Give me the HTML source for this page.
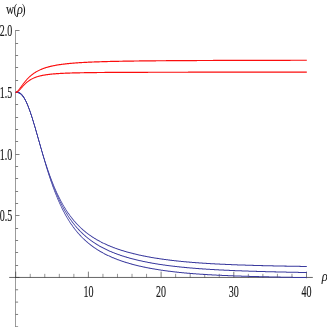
<!DOCTYPE html>
<html><head><meta charset="utf-8"><title>plot</title>
<style>
html,body{margin:0;padding:0;background:#fff;}
body{width:327px;height:327px;overflow:hidden;}
svg{display:block;will-change:transform;}
text{font-family:"Liberation Serif",serif;fill:#1a1a1a;}
</style></head><body>
<svg width="327" height="327" viewBox="0 0 327 327">
<rect width="327" height="327" fill="#ffffff"/>
<line x1="15.5" y1="30.1" x2="15.5" y2="327" stroke="#2d2d2d" stroke-width="0.48"/>
<line x1="9.2" y1="277.45" x2="312.8" y2="277.45" stroke="#2d2d2d" stroke-width="0.74"/>
<line x1="15.7" y1="326.79" x2="18.10" y2="326.79" stroke="#2d2d2d" stroke-width="0.62"/>
<line x1="15.7" y1="314.45" x2="18.10" y2="314.45" stroke="#2d2d2d" stroke-width="0.62"/>
<line x1="15.7" y1="302.12" x2="18.10" y2="302.12" stroke="#2d2d2d" stroke-width="0.62"/>
<line x1="15.7" y1="289.78" x2="18.10" y2="289.78" stroke="#2d2d2d" stroke-width="0.62"/>
<line x1="15.7" y1="277.45" x2="19.50" y2="277.45" stroke="#2d2d2d" stroke-width="0.6"/>
<line x1="15.7" y1="265.50" x2="18.10" y2="265.50" stroke="#2d2d2d" stroke-width="0.62"/>
<line x1="15.7" y1="252.50" x2="18.10" y2="252.50" stroke="#2d2d2d" stroke-width="0.62"/>
<line x1="15.7" y1="240.50" x2="18.10" y2="240.50" stroke="#2d2d2d" stroke-width="0.62"/>
<line x1="15.7" y1="228.50" x2="18.10" y2="228.50" stroke="#2d2d2d" stroke-width="0.62"/>
<line x1="15.7" y1="215.50" x2="19.50" y2="215.50" stroke="#2d2d2d" stroke-width="0.6"/>
<line x1="15.7" y1="203.50" x2="18.10" y2="203.50" stroke="#2d2d2d" stroke-width="0.62"/>
<line x1="15.7" y1="191.50" x2="18.10" y2="191.50" stroke="#2d2d2d" stroke-width="0.62"/>
<line x1="15.7" y1="178.50" x2="18.10" y2="178.50" stroke="#2d2d2d" stroke-width="0.62"/>
<line x1="15.7" y1="166.50" x2="18.10" y2="166.50" stroke="#2d2d2d" stroke-width="0.62"/>
<line x1="15.7" y1="154.50" x2="19.50" y2="154.50" stroke="#2d2d2d" stroke-width="0.6"/>
<line x1="15.7" y1="141.50" x2="18.10" y2="141.50" stroke="#2d2d2d" stroke-width="0.62"/>
<line x1="15.7" y1="129.50" x2="18.10" y2="129.50" stroke="#2d2d2d" stroke-width="0.62"/>
<line x1="15.7" y1="117.50" x2="18.10" y2="117.50" stroke="#2d2d2d" stroke-width="0.62"/>
<line x1="15.7" y1="104.50" x2="18.10" y2="104.50" stroke="#2d2d2d" stroke-width="0.62"/>
<line x1="15.7" y1="92.50" x2="19.50" y2="92.50" stroke="#2d2d2d" stroke-width="0.6"/>
<line x1="15.7" y1="80.50" x2="18.10" y2="80.50" stroke="#2d2d2d" stroke-width="0.62"/>
<line x1="15.7" y1="67.50" x2="18.10" y2="67.50" stroke="#2d2d2d" stroke-width="0.62"/>
<line x1="15.7" y1="55.50" x2="18.10" y2="55.50" stroke="#2d2d2d" stroke-width="0.62"/>
<line x1="15.7" y1="43.50" x2="18.10" y2="43.50" stroke="#2d2d2d" stroke-width="0.62"/>
<line x1="15.7" y1="30.50" x2="19.50" y2="30.50" stroke="#2d2d2d" stroke-width="0.6"/>
<line x1="15.70" y1="277.45" x2="15.70" y2="271.65" stroke="#2d2d2d" stroke-width="0.62"/>
<line x1="30.24" y1="277.45" x2="30.24" y2="273.84999999999997" stroke="#2d2d2d" stroke-width="0.5"/>
<line x1="44.78" y1="277.45" x2="44.78" y2="273.84999999999997" stroke="#2d2d2d" stroke-width="0.5"/>
<line x1="59.32" y1="277.45" x2="59.32" y2="273.84999999999997" stroke="#2d2d2d" stroke-width="0.5"/>
<line x1="73.86" y1="277.45" x2="73.86" y2="273.84999999999997" stroke="#2d2d2d" stroke-width="0.5"/>
<line x1="88.40" y1="277.45" x2="88.40" y2="271.65" stroke="#2d2d2d" stroke-width="0.62"/>
<line x1="102.94" y1="277.45" x2="102.94" y2="273.84999999999997" stroke="#2d2d2d" stroke-width="0.5"/>
<line x1="117.48" y1="277.45" x2="117.48" y2="273.84999999999997" stroke="#2d2d2d" stroke-width="0.5"/>
<line x1="132.02" y1="277.45" x2="132.02" y2="273.84999999999997" stroke="#2d2d2d" stroke-width="0.5"/>
<line x1="146.56" y1="277.45" x2="146.56" y2="273.84999999999997" stroke="#2d2d2d" stroke-width="0.5"/>
<line x1="161.10" y1="277.45" x2="161.10" y2="271.65" stroke="#2d2d2d" stroke-width="0.62"/>
<line x1="175.64" y1="277.45" x2="175.64" y2="273.84999999999997" stroke="#2d2d2d" stroke-width="0.5"/>
<line x1="190.18" y1="277.45" x2="190.18" y2="273.84999999999997" stroke="#2d2d2d" stroke-width="0.5"/>
<line x1="204.72" y1="277.45" x2="204.72" y2="273.84999999999997" stroke="#2d2d2d" stroke-width="0.5"/>
<line x1="219.26" y1="277.45" x2="219.26" y2="273.84999999999997" stroke="#2d2d2d" stroke-width="0.5"/>
<line x1="233.80" y1="277.45" x2="233.80" y2="271.65" stroke="#2d2d2d" stroke-width="0.62"/>
<line x1="248.34" y1="277.45" x2="248.34" y2="273.84999999999997" stroke="#2d2d2d" stroke-width="0.5"/>
<line x1="262.88" y1="277.45" x2="262.88" y2="273.84999999999997" stroke="#2d2d2d" stroke-width="0.5"/>
<line x1="277.42" y1="277.45" x2="277.42" y2="273.84999999999997" stroke="#2d2d2d" stroke-width="0.5"/>
<line x1="291.96" y1="277.45" x2="291.96" y2="273.84999999999997" stroke="#2d2d2d" stroke-width="0.5"/>
<line x1="306.50" y1="277.45" x2="306.50" y2="271.65" stroke="#2d2d2d" stroke-width="0.62"/>
<path transform="scale(1,1.62)" d="M15.8,57.05 L16.3,57.01 L16.8,57.00 L17.3,57.01 L17.8,57.04 L18.3,57.11 L18.8,57.21 L19.3,57.35 L19.8,57.51 L20.3,57.72 L20.8,57.95 L21.3,58.23 L21.8,58.54 L22.3,58.88 L22.8,59.27 L23.3,59.69 L23.8,60.15 L24.3,60.65 L24.8,61.18 L25.3,61.75 L25.8,62.36 L26.3,63.00 L26.8,63.68 L27.3,64.39 L27.8,65.13 L28.3,65.90 L28.8,66.70 L29.3,67.54 L29.8,68.39 L30.3,69.28 L30.8,70.19 L31.3,71.12 L31.8,72.07 L32.3,73.04 L32.8,74.03 L33.3,75.04 L33.8,76.06 L34.3,77.09 L34.8,78.14 L35.3,79.19 L35.8,80.26 L36.3,81.33 L36.8,82.40 L37.3,83.48 L37.8,84.57 L38.3,85.65 L38.8,86.73 L39.3,87.81 L39.8,88.89 L40.3,89.96 L40.8,91.02 L41.3,92.07 L41.8,93.12 L42.3,94.16 L42.8,95.18 L43.3,96.19 L43.8,97.19 L44.3,98.18 L44.8,99.16 L45.3,100.12 L45.8,101.07 L46.3,102.01 L46.8,102.94 L47.3,103.86 L47.8,104.77 L48.3,105.66 L48.8,106.55 L49.3,107.42 L49.8,108.28 L50.3,109.13 L50.8,109.96 L51.3,110.79 L51.8,111.59 L52.3,112.39 L52.8,113.17 L53.3,113.94 L53.8,114.69 L54.3,115.43 L54.8,116.16 L55.3,116.88 L55.8,117.58 L56.3,118.28 L56.8,118.96 L57.3,119.63 L57.8,120.28 L58.3,120.93 L58.8,121.56 L59.3,122.18 L59.8,122.79 L60.3,123.39 L60.8,123.98 L61.3,124.56 L61.8,125.13 L62.3,125.69 L62.8,126.23 L63.3,126.77 L63.8,127.30 L64.3,127.82 L64.8,128.33 L65.3,128.83 L65.8,129.32 L66.3,129.80 L66.8,130.28 L67.3,130.74 L67.8,131.20 L68.3,131.65 L68.8,132.09 L69.3,132.52 L69.8,132.95 L70.3,133.36 L70.8,133.77 L71.3,134.18 L71.8,134.57 L72.3,134.96 L72.8,135.35 L73.3,135.72 L73.8,136.09 L74.3,136.46 L74.8,136.81 L75.3,137.16 L75.8,137.51 L76.3,137.85 L76.8,138.18 L77.3,138.51 L77.8,138.83 L78.3,139.15 L78.8,139.46 L79.3,139.77 L79.8,140.07 L80.3,140.37 L80.8,140.66 L81.3,140.94 L81.8,141.23 L82.3,141.50 L82.8,141.78 L83.3,142.05 L83.8,142.31 L84.3,142.57 L84.8,142.83 L85.3,143.08 L85.8,143.33 L86.3,143.58 L86.8,143.82 L87.3,144.05 L87.8,144.29 L88.3,144.52 L88.8,144.74 L89.3,144.97 L89.8,145.19 L90.3,145.41 L90.8,145.62 L91.3,145.83 L91.8,146.04 L92.3,146.24 L92.8,146.44 L93.3,146.64 L93.8,146.84 L94.3,147.03 L94.8,147.22 L95.3,147.41 L95.8,147.59 L96.3,147.78 L96.8,147.95 L97.3,148.13 L97.8,148.31 L98.3,148.48 L98.8,148.65 L99.3,148.82 L99.8,148.98 L100.3,149.15 L100.8,149.31 L101.3,149.47 L101.8,149.63 L102.3,149.78 L102.8,149.93 L103.3,150.08 L103.8,150.23 L104.3,150.38 L104.8,150.53 L105.3,150.67 L105.8,150.81 L106.3,150.95 L106.8,151.09 L107.3,151.23 L107.8,151.36 L108.3,151.49 L108.8,151.63 L109.3,151.76 L109.8,151.89 L110.3,152.01 L110.8,152.14 L111.3,152.26 L111.8,152.38 L112.3,152.51 L112.8,152.63 L113.3,152.74 L113.8,152.86 L114.3,152.98 L114.8,153.09 L115.3,153.20 L115.8,153.32 L116.3,153.43 L116.8,153.54 L117.3,153.64 L117.8,153.75 L118.3,153.86 L118.8,153.96 L119.3,154.07 L119.8,154.17 L120.3,154.27 L120.8,154.37 L121.3,154.47 L121.8,154.57 L122.3,154.66 L122.8,154.76 L123.3,154.85 L123.8,154.95 L124.3,155.04 L124.8,155.13 L125.3,155.22 L125.8,155.31 L126.3,155.40 L126.8,155.49 L127.3,155.58 L127.8,155.66 L128.3,155.75 L128.8,155.83 L129.3,155.92 L129.8,156.00 L130.3,156.08 L130.8,156.16 L131.3,156.24 L131.8,156.32 L132.3,156.40 L132.8,156.48 L133.3,156.56 L133.8,156.63 L134.3,156.71 L134.8,156.78 L135.3,156.86 L135.8,156.93 L136.3,157.00 L136.8,157.08 L137.3,157.15 L137.8,157.22 L138.3,157.29 L138.8,157.36 L139.3,157.43 L139.8,157.49 L140.3,157.56 L140.8,157.63 L141.3,157.69 L141.8,157.76 L142.3,157.82 L142.8,157.89 L143.3,157.95 L143.8,158.01 L144.3,158.07 L144.8,158.14 L145.3,158.20 L145.8,158.26 L146.3,158.32 L146.8,158.38 L147.3,158.43 L147.8,158.49 L148.3,158.55 L148.8,158.61 L149.3,158.66 L149.8,158.72 L150.3,158.77 L150.8,158.83 L151.3,158.88 L151.8,158.94 L152.3,158.99 L152.8,159.04 L153.3,159.09 L153.8,159.15 L154.3,159.20 L154.8,159.25 L155.3,159.30 L155.8,159.35 L156.3,159.40 L156.8,159.45 L157.3,159.49 L157.8,159.54 L158.3,159.59 L158.8,159.64 L159.3,159.68 L159.8,159.73 L160.3,159.78 L160.8,159.82 L161.3,159.87 L161.8,159.91 L162.3,159.95 L162.8,160.00 L163.3,160.04 L163.8,160.08 L164.3,160.13 L164.8,160.17 L165.3,160.21 L165.8,160.25 L166.3,160.29 L166.8,160.33 L167.3,160.37 L167.8,160.41 L168.3,160.45 L168.8,160.49 L169.3,160.53 L169.8,160.57 L170.3,160.61 L170.8,160.64 L171.3,160.68 L171.8,160.72 L172.3,160.75 L172.8,160.79 L173.3,160.83 L173.8,160.86 L174.3,160.90 L174.8,160.93 L175.3,160.97 L175.8,161.00 L176.3,161.03 L176.8,161.07 L177.3,161.10 L177.8,161.13 L178.3,161.17 L178.8,161.20 L179.3,161.23 L179.8,161.26 L180.3,161.29 L180.8,161.33 L181.3,161.36 L181.8,161.39 L182.3,161.42 L182.8,161.45 L183.3,161.48 L183.8,161.51 L184.3,161.54 L184.8,161.56 L185.3,161.59 L185.8,161.62 L186.3,161.65 L186.8,161.68 L187.3,161.71 L187.8,161.73 L188.3,161.76 L188.8,161.79 L189.3,161.81 L189.8,161.84 L190.3,161.87 L190.8,161.89 L191.3,161.92 L191.8,161.94 L192.3,161.97 L192.8,161.99 L193.3,162.02 L193.8,162.04 L194.3,162.06 L194.8,162.09 L195.3,162.11 L195.8,162.14 L196.3,162.16 L196.8,162.18 L197.3,162.20 L197.8,162.23 L198.3,162.25 L198.8,162.27 L199.3,162.29 L199.8,162.31 L200.3,162.34 L200.8,162.36 L201.3,162.38 L201.8,162.40 L202.3,162.42 L202.8,162.44 L203.3,162.46 L203.8,162.48 L204.3,162.50 L204.8,162.52 L205.3,162.54 L205.8,162.56 L206.3,162.58 L206.8,162.60 L207.3,162.62 L207.8,162.64 L208.3,162.65 L208.8,162.67 L209.3,162.69 L209.8,162.71 L210.3,162.73 L210.8,162.74 L211.3,162.76 L211.8,162.78 L212.3,162.80 L212.8,162.81 L213.3,162.83 L213.8,162.85 L214.3,162.86 L214.8,162.88 L215.3,162.90 L215.8,162.91 L216.3,162.93 L216.8,162.95 L217.3,162.96 L217.8,162.98 L218.3,162.99 L218.8,163.01 L219.3,163.02 L219.8,163.04 L220.3,163.05 L220.8,163.07 L221.3,163.08 L221.8,163.10 L222.3,163.11 L222.8,163.13 L223.3,163.14 L223.8,163.16 L224.3,163.17 L224.8,163.18 L225.3,163.20 L225.8,163.21 L226.3,163.22 L226.8,163.24 L227.3,163.25 L227.8,163.26 L228.3,163.28 L228.8,163.29 L229.3,163.30 L229.8,163.32 L230.3,163.33 L230.8,163.34 L231.3,163.35 L231.8,163.37 L232.3,163.38 L232.8,163.39 L233.3,163.40 L233.8,163.41 L234.3,163.43 L234.8,163.44 L235.3,163.45 L235.8,163.46 L236.3,163.47 L236.8,163.48 L237.3,163.50 L237.8,163.51 L238.3,163.52 L238.8,163.53 L239.3,163.54 L239.8,163.55 L240.3,163.56 L240.8,163.57 L241.3,163.58 L241.8,163.59 L242.3,163.60 L242.8,163.61 L243.3,163.62 L243.8,163.63 L244.3,163.64 L244.8,163.65 L245.3,163.66 L245.8,163.67 L246.3,163.68 L246.8,163.69 L247.3,163.70 L247.8,163.71 L248.3,163.72 L248.8,163.73 L249.3,163.74 L249.8,163.75 L250.3,163.76 L250.8,163.77 L251.3,163.78 L251.8,163.79 L252.3,163.80 L252.8,163.81 L253.3,163.81 L253.8,163.82 L254.3,163.83 L254.8,163.84 L255.3,163.85 L255.8,163.86 L256.3,163.87 L256.8,163.87 L257.3,163.88 L257.8,163.89 L258.3,163.90 L258.8,163.91 L259.3,163.92 L259.8,163.92 L260.3,163.93 L260.8,163.94 L261.3,163.95 L261.8,163.96 L262.3,163.96 L262.8,163.97 L263.3,163.98 L263.8,163.99 L264.3,163.99 L264.8,164.00 L265.3,164.01 L265.8,164.02 L266.3,164.02 L266.8,164.03 L267.3,164.04 L267.8,164.05 L268.3,164.05 L268.8,164.06 L269.3,164.07 L269.8,164.07 L270.3,164.08 L270.8,164.09 L271.3,164.09 L271.8,164.10 L272.3,164.11 L272.8,164.12 L273.3,164.12 L273.8,164.13 L274.3,164.14 L274.8,164.14 L275.3,164.15 L275.8,164.16 L276.3,164.16 L276.8,164.17 L277.3,164.17 L277.8,164.18 L278.3,164.19 L278.8,164.19 L279.3,164.20 L279.8,164.21 L280.3,164.21 L280.8,164.22 L281.3,164.22 L281.8,164.23 L282.3,164.24 L282.8,164.24 L283.3,164.25 L283.8,164.25 L284.3,164.26 L284.8,164.27 L285.3,164.27 L285.8,164.28 L286.3,164.28 L286.8,164.29 L287.3,164.30 L287.8,164.30 L288.3,164.31 L288.8,164.31 L289.3,164.32 L289.8,164.32 L290.3,164.33 L290.8,164.33 L291.3,164.34 L291.8,164.35 L292.3,164.35 L292.8,164.36 L293.3,164.36 L293.8,164.37 L294.3,164.37 L294.8,164.38 L295.3,164.38 L295.8,164.39 L296.3,164.39 L296.8,164.40 L297.3,164.40 L297.8,164.41 L298.3,164.41 L298.8,164.42 L299.3,164.42 L299.8,164.43 L300.3,164.43 L300.8,164.44 L301.3,164.44 L301.8,164.45 L302.3,164.45 L302.8,164.46 L303.3,164.46 L303.8,164.47 L304.3,164.47 L304.8,164.48 L305.3,164.48 L305.8,164.49 L306.3,164.49 L306.8,164.50 L306.8,164.50" fill="none" stroke="#3a3a9e" stroke-width="0.63" stroke-linejoin="round"/>
<path transform="scale(1,1.62)" d="M15.8,57.05 L16.3,57.01 L16.8,57.00 L17.3,57.01 L17.8,57.04 L18.3,57.11 L18.8,57.21 L19.3,57.35 L19.8,57.51 L20.3,57.72 L20.8,57.95 L21.3,58.23 L21.8,58.54 L22.3,58.88 L22.8,59.27 L23.3,59.69 L23.8,60.15 L24.3,60.65 L24.8,61.18 L25.3,61.75 L25.8,62.36 L26.3,63.00 L26.8,63.68 L27.3,64.39 L27.8,65.13 L28.3,65.90 L28.8,66.70 L29.3,67.54 L29.8,68.39 L30.3,69.28 L30.8,70.19 L31.3,71.12 L31.8,72.07 L32.3,73.04 L32.8,74.03 L33.3,75.04 L33.8,76.06 L34.3,77.09 L34.8,78.14 L35.3,79.19 L35.8,80.26 L36.3,81.33 L36.8,82.40 L37.3,83.48 L37.8,84.57 L38.3,85.65 L38.8,86.73 L39.3,87.82 L39.8,88.90 L40.3,89.98 L40.8,91.05 L41.3,92.12 L41.8,93.18 L42.3,94.24 L42.8,95.29 L43.3,96.33 L43.8,97.36 L44.3,98.38 L44.8,99.40 L45.3,100.40 L45.8,101.39 L46.3,102.37 L46.8,103.34 L47.3,104.30 L47.8,105.24 L48.3,106.18 L48.8,107.10 L49.3,108.00 L49.8,108.90 L50.3,109.78 L50.8,110.65 L51.3,111.51 L51.8,112.35 L52.3,113.18 L52.8,114.00 L53.3,114.80 L53.8,115.59 L54.3,116.37 L54.8,117.14 L55.3,117.89 L55.8,118.63 L56.3,119.36 L56.8,120.08 L57.3,120.78 L57.8,121.47 L58.3,122.15 L58.8,122.82 L59.3,123.47 L59.8,124.12 L60.3,124.75 L60.8,125.38 L61.3,125.99 L61.8,126.59 L62.3,127.18 L62.8,127.76 L63.3,128.33 L63.8,128.89 L64.3,129.44 L64.8,129.98 L65.3,130.51 L65.8,131.03 L66.3,131.54 L66.8,132.05 L67.3,132.54 L67.8,133.03 L68.3,133.50 L68.8,133.97 L69.3,134.43 L69.8,134.89 L70.3,135.33 L70.8,135.77 L71.3,136.20 L71.8,136.62 L72.3,137.03 L72.8,137.44 L73.3,137.84 L73.8,138.23 L74.3,138.62 L74.8,139.00 L75.3,139.38 L75.8,139.74 L76.3,140.10 L76.8,140.46 L77.3,140.81 L77.8,141.15 L78.3,141.49 L78.8,141.82 L79.3,142.15 L79.8,142.47 L80.3,142.79 L80.8,143.10 L81.3,143.40 L81.8,143.71 L82.3,144.00 L82.8,144.29 L83.3,144.58 L83.8,144.86 L84.3,145.14 L84.8,145.41 L85.3,145.68 L85.8,145.95 L86.3,146.21 L86.8,146.47 L87.3,146.72 L87.8,146.97 L88.3,147.21 L88.8,147.46 L89.3,147.69 L89.8,147.93 L90.3,148.16 L90.8,148.39 L91.3,148.61 L91.8,148.83 L92.3,149.05 L92.8,149.26 L93.3,149.47 L93.8,149.68 L94.3,149.89 L94.8,150.09 L95.3,150.29 L95.8,150.49 L96.3,150.68 L96.8,150.87 L97.3,151.06 L97.8,151.24 L98.3,151.43 L98.8,151.61 L99.3,151.79 L99.8,151.96 L100.3,152.14 L100.8,152.31 L101.3,152.48 L101.8,152.64 L102.3,152.81 L102.8,152.97 L103.3,153.13 L103.8,153.29 L104.3,153.44 L104.8,153.60 L105.3,153.75 L105.8,153.90 L106.3,154.05 L106.8,154.19 L107.3,154.34 L107.8,154.48 L108.3,154.62 L108.8,154.76 L109.3,154.90 L109.8,155.03 L110.3,155.17 L110.8,155.30 L111.3,155.43 L111.8,155.56 L112.3,155.69 L112.8,155.81 L113.3,155.94 L113.8,156.06 L114.3,156.18 L114.8,156.30 L115.3,156.42 L115.8,156.54 L116.3,156.65 L116.8,156.77 L117.3,156.88 L117.8,156.99 L118.3,157.11 L118.8,157.22 L119.3,157.32 L119.8,157.43 L120.3,157.54 L120.8,157.64 L121.3,157.75 L121.8,157.85 L122.3,157.95 L122.8,158.05 L123.3,158.15 L123.8,158.25 L124.3,158.34 L124.8,158.44 L125.3,158.53 L125.8,158.63 L126.3,158.72 L126.8,158.81 L127.3,158.90 L127.8,158.99 L128.3,159.08 L128.8,159.17 L129.3,159.26 L129.8,159.34 L130.3,159.43 L130.8,159.51 L131.3,159.60 L131.8,159.68 L132.3,159.76 L132.8,159.84 L133.3,159.92 L133.8,160.00 L134.3,160.08 L134.8,160.16 L135.3,160.23 L135.8,160.31 L136.3,160.39 L136.8,160.46 L137.3,160.53 L137.8,160.61 L138.3,160.68 L138.8,160.75 L139.3,160.82 L139.8,160.89 L140.3,160.96 L140.8,161.03 L141.3,161.10 L141.8,161.16 L142.3,161.23 L142.8,161.30 L143.3,161.36 L143.8,161.43 L144.3,161.49 L144.8,161.55 L145.3,161.62 L145.8,161.68 L146.3,161.74 L146.8,161.80 L147.3,161.86 L147.8,161.92 L148.3,161.98 L148.8,162.04 L149.3,162.10 L149.8,162.16 L150.3,162.21 L150.8,162.27 L151.3,162.32 L151.8,162.38 L152.3,162.43 L152.8,162.49 L153.3,162.54 L153.8,162.60 L154.3,162.65 L154.8,162.70 L155.3,162.75 L155.8,162.80 L156.3,162.85 L156.8,162.90 L157.3,162.95 L157.8,163.00 L158.3,163.05 L158.8,163.10 L159.3,163.15 L159.8,163.20 L160.3,163.24 L160.8,163.29 L161.3,163.34 L161.8,163.38 L162.3,163.43 L162.8,163.47 L163.3,163.52 L163.8,163.56 L164.3,163.60 L164.8,163.65 L165.3,163.69 L165.8,163.73 L166.3,163.77 L166.8,163.82 L167.3,163.86 L167.8,163.90 L168.3,163.94 L168.8,163.98 L169.3,164.02 L169.8,164.06 L170.3,164.10 L170.8,164.14 L171.3,164.17 L171.8,164.21 L172.3,164.25 L172.8,164.29 L173.3,164.32 L173.8,164.36 L174.3,164.40 L174.8,164.43 L175.3,164.47 L175.8,164.50 L176.3,164.54 L176.8,164.57 L177.3,164.61 L177.8,164.64 L178.3,164.67 L178.8,164.71 L179.3,164.74 L179.8,164.77 L180.3,164.81 L180.8,164.84 L181.3,164.87 L181.8,164.90 L182.3,164.93 L182.8,164.96 L183.3,164.99 L183.8,165.02 L184.3,165.05 L184.8,165.08 L185.3,165.11 L185.8,165.14 L186.3,165.17 L186.8,165.20 L187.3,165.23 L187.8,165.26 L188.3,165.29 L188.8,165.31 L189.3,165.34 L189.8,165.37 L190.3,165.39 L190.8,165.42 L191.3,165.45 L191.8,165.47 L192.3,165.50 L192.8,165.53 L193.3,165.55 L193.8,165.58 L194.3,165.60 L194.8,165.63 L195.3,165.65 L195.8,165.67 L196.3,165.70 L196.8,165.72 L197.3,165.75 L197.8,165.77 L198.3,165.79 L198.8,165.82 L199.3,165.84 L199.8,165.86 L200.3,165.88 L200.8,165.91 L201.3,165.93 L201.8,165.95 L202.3,165.97 L202.8,165.99 L203.3,166.01 L203.8,166.04 L204.3,166.06 L204.8,166.08 L205.3,166.10 L205.8,166.12 L206.3,166.14 L206.8,166.16 L207.3,166.18 L207.8,166.20 L208.3,166.22 L208.8,166.24 L209.3,166.25 L209.8,166.27 L210.3,166.29 L210.8,166.31 L211.3,166.33 L211.8,166.35 L212.3,166.37 L212.8,166.38 L213.3,166.40 L213.8,166.42 L214.3,166.44 L214.8,166.45 L215.3,166.47 L215.8,166.49 L216.3,166.51 L216.8,166.52 L217.3,166.54 L217.8,166.56 L218.3,166.57 L218.8,166.59 L219.3,166.60 L219.8,166.62 L220.3,166.64 L220.8,166.65 L221.3,166.67 L221.8,166.68 L222.3,166.70 L222.8,166.71 L223.3,166.73 L223.8,166.74 L224.3,166.76 L224.8,166.77 L225.3,166.79 L225.8,166.80 L226.3,166.82 L226.8,166.83 L227.3,166.85 L227.8,166.86 L228.3,166.87 L228.8,166.89 L229.3,166.90 L229.8,166.92 L230.3,166.93 L230.8,166.94 L231.3,166.96 L231.8,166.97 L232.3,166.98 L232.8,167.00 L233.3,167.01 L233.8,167.02 L234.3,167.03 L234.8,167.05 L235.3,167.06 L235.8,167.07 L236.3,167.08 L236.8,167.10 L237.3,167.11 L237.8,167.12 L238.3,167.13 L238.8,167.14 L239.3,167.16 L239.8,167.17 L240.3,167.18 L240.8,167.19 L241.3,167.20 L241.8,167.21 L242.3,167.23 L242.8,167.24 L243.3,167.25 L243.8,167.26 L244.3,167.27 L244.8,167.28 L245.3,167.29 L245.8,167.30 L246.3,167.31 L246.8,167.32 L247.3,167.33 L247.8,167.34 L248.3,167.35 L248.8,167.37 L249.3,167.38 L249.8,167.39 L250.3,167.40 L250.8,167.41 L251.3,167.42 L251.8,167.43 L252.3,167.44 L252.8,167.45 L253.3,167.45 L253.8,167.46 L254.3,167.47 L254.8,167.48 L255.3,167.49 L255.8,167.50 L256.3,167.51 L256.8,167.52 L257.3,167.53 L257.8,167.54 L258.3,167.55 L258.8,167.56 L259.3,167.57 L259.8,167.58 L260.3,167.58 L260.8,167.59 L261.3,167.60 L261.8,167.61 L262.3,167.62 L262.8,167.63 L263.3,167.64 L263.8,167.64 L264.3,167.65 L264.8,167.66 L265.3,167.67 L265.8,167.68 L266.3,167.69 L266.8,167.69 L267.3,167.70 L267.8,167.71 L268.3,167.72 L268.8,167.73 L269.3,167.73 L269.8,167.74 L270.3,167.75 L270.8,167.76 L271.3,167.77 L271.8,167.77 L272.3,167.78 L272.8,167.79 L273.3,167.80 L273.8,167.80 L274.3,167.81 L274.8,167.82 L275.3,167.83 L275.8,167.83 L276.3,167.84 L276.8,167.85 L277.3,167.86 L277.8,167.86 L278.3,167.87 L278.8,167.88 L279.3,167.88 L279.8,167.89 L280.3,167.90 L280.8,167.91 L281.3,167.91 L281.8,167.92 L282.3,167.93 L282.8,167.93 L283.3,167.94 L283.8,167.95 L284.3,167.95 L284.8,167.96 L285.3,167.97 L285.8,167.97 L286.3,167.98 L286.8,167.99 L287.3,167.99 L287.8,168.00 L288.3,168.01 L288.8,168.01 L289.3,168.02 L289.8,168.03 L290.3,168.03 L290.8,168.04 L291.3,168.04 L291.8,168.05 L292.3,168.06 L292.8,168.06 L293.3,168.07 L293.8,168.08 L294.3,168.08 L294.8,168.09 L295.3,168.09 L295.8,168.10 L296.3,168.11 L296.8,168.11 L297.3,168.12 L297.8,168.12 L298.3,168.13 L298.8,168.14 L299.3,168.14 L299.8,168.15 L300.3,168.15 L300.8,168.16 L301.3,168.16 L301.8,168.17 L302.3,168.18 L302.8,168.18 L303.3,168.19 L303.8,168.19 L304.3,168.20 L304.8,168.20 L305.3,168.21 L305.8,168.22 L306.3,168.22 L306.8,168.23 L306.8,168.23" fill="none" stroke="#3a3a9e" stroke-width="0.63" stroke-linejoin="round"/>
<path transform="scale(1,1.62)" d="M15.8,57.05 L16.3,57.01 L16.8,57.00 L17.3,57.01 L17.8,57.04 L18.3,57.11 L18.8,57.21 L19.3,57.35 L19.8,57.51 L20.3,57.72 L20.8,57.95 L21.3,58.23 L21.8,58.54 L22.3,58.88 L22.8,59.27 L23.3,59.69 L23.8,60.15 L24.3,60.65 L24.8,61.18 L25.3,61.75 L25.8,62.36 L26.3,63.00 L26.8,63.68 L27.3,64.39 L27.8,65.13 L28.3,65.90 L28.8,66.70 L29.3,67.54 L29.8,68.39 L30.3,69.28 L30.8,70.19 L31.3,71.12 L31.8,72.07 L32.3,73.04 L32.8,74.03 L33.3,75.04 L33.8,76.06 L34.3,77.09 L34.8,78.14 L35.3,79.19 L35.8,80.26 L36.3,81.33 L36.8,82.40 L37.3,83.48 L37.8,84.57 L38.3,85.66 L38.8,86.75 L39.3,87.84 L39.8,88.93 L40.3,90.02 L40.8,91.12 L41.3,92.21 L41.8,93.30 L42.3,94.39 L42.8,95.47 L43.3,96.55 L43.8,97.63 L44.3,98.70 L44.8,99.76 L45.3,100.82 L45.8,101.86 L46.3,102.89 L46.8,103.91 L47.3,104.92 L47.8,105.91 L48.3,106.88 L48.8,107.84 L49.3,108.79 L49.8,109.72 L50.3,110.64 L50.8,111.55 L51.3,112.45 L51.8,113.33 L52.3,114.20 L52.8,115.05 L53.3,115.90 L53.8,116.73 L54.3,117.54 L54.8,118.35 L55.3,119.14 L55.8,119.91 L56.3,120.68 L56.8,121.43 L57.3,122.17 L57.8,122.90 L58.3,123.62 L58.8,124.32 L59.3,125.01 L59.8,125.69 L60.3,126.36 L60.8,127.01 L61.3,127.66 L61.8,128.29 L62.3,128.91 L62.8,129.53 L63.3,130.13 L63.8,130.72 L64.3,131.30 L64.8,131.87 L65.3,132.43 L65.8,132.98 L66.3,133.52 L66.8,134.05 L67.3,134.57 L67.8,135.08 L68.3,135.59 L68.8,136.08 L69.3,136.57 L69.8,137.05 L70.3,137.52 L70.8,137.98 L71.3,138.43 L71.8,138.88 L72.3,139.31 L72.8,139.74 L73.3,140.17 L73.8,140.58 L74.3,140.99 L74.8,141.39 L75.3,141.79 L75.8,142.17 L76.3,142.56 L76.8,142.93 L77.3,143.30 L77.8,143.66 L78.3,144.02 L78.8,144.37 L79.3,144.71 L79.8,145.05 L80.3,145.39 L80.8,145.71 L81.3,146.04 L81.8,146.35 L82.3,146.67 L82.8,146.97 L83.3,147.28 L83.8,147.57 L84.3,147.87 L84.8,148.15 L85.3,148.44 L85.8,148.72 L86.3,148.99 L86.8,149.26 L87.3,149.53 L87.8,149.79 L88.3,150.05 L88.8,150.30 L89.3,150.55 L89.8,150.80 L90.3,151.04 L90.8,151.28 L91.3,151.51 L91.8,151.75 L92.3,151.97 L92.8,152.20 L93.3,152.42 L93.8,152.64 L94.3,152.85 L94.8,153.07 L95.3,153.28 L95.8,153.48 L96.3,153.68 L96.8,153.88 L97.3,154.08 L97.8,154.28 L98.3,154.47 L98.8,154.66 L99.3,154.84 L99.8,155.03 L100.3,155.21 L100.8,155.39 L101.3,155.56 L101.8,155.74 L102.3,155.91 L102.8,156.08 L103.3,156.25 L103.8,156.41 L104.3,156.57 L104.8,156.73 L105.3,156.89 L105.8,157.05 L106.3,157.20 L106.8,157.36 L107.3,157.51 L107.8,157.65 L108.3,157.80 L108.8,157.95 L109.3,158.09 L109.8,158.23 L110.3,158.37 L110.8,158.51 L111.3,158.64 L111.8,158.78 L112.3,158.91 L112.8,159.04 L113.3,159.17 L113.8,159.30 L114.3,159.42 L114.8,159.55 L115.3,159.67 L115.8,159.79 L116.3,159.91 L116.8,160.03 L117.3,160.15 L117.8,160.27 L118.3,160.38 L118.8,160.50 L119.3,160.61 L119.8,160.72 L120.3,160.83 L120.8,160.94 L121.3,161.04 L121.8,161.15 L122.3,161.25 L122.8,161.36 L123.3,161.46 L123.8,161.56 L124.3,161.66 L124.8,161.76 L125.3,161.86 L125.8,161.96 L126.3,162.05 L126.8,162.15 L127.3,162.24 L127.8,162.33 L128.3,162.42 L128.8,162.51 L129.3,162.60 L129.8,162.69 L130.3,162.78 L130.8,162.87 L131.3,162.95 L131.8,163.04 L132.3,163.12 L132.8,163.20 L133.3,163.29 L133.8,163.37 L134.3,163.45 L134.8,163.53 L135.3,163.61 L135.8,163.68 L136.3,163.76 L136.8,163.84 L137.3,163.91 L137.8,163.99 L138.3,164.06 L138.8,164.13 L139.3,164.21 L139.8,164.28 L140.3,164.35 L140.8,164.42 L141.3,164.49 L141.8,164.56 L142.3,164.62 L142.8,164.69 L143.3,164.76 L143.8,164.82 L144.3,164.89 L144.8,164.95 L145.3,165.02 L145.8,165.08 L146.3,165.14 L146.8,165.21 L147.3,165.27 L147.8,165.33 L148.3,165.39 L148.8,165.45 L149.3,165.51 L149.8,165.56 L150.3,165.62 L150.8,165.68 L151.3,165.73 L151.8,165.79 L152.3,165.85 L152.8,165.90 L153.3,165.96 L153.8,166.01 L154.3,166.06 L154.8,166.11 L155.3,166.17 L155.8,166.22 L156.3,166.27 L156.8,166.32 L157.3,166.37 L157.8,166.42 L158.3,166.47 L158.8,166.52 L159.3,166.57 L159.8,166.61 L160.3,166.66 L160.8,166.71 L161.3,166.75 L161.8,166.80 L162.3,166.84 L162.8,166.89 L163.3,166.93 L163.8,166.98 L164.3,167.02 L164.8,167.06 L165.3,167.11 L165.8,167.15 L166.3,167.19 L166.8,167.23 L167.3,167.27 L167.8,167.31 L168.3,167.36 L168.8,167.39 L169.3,167.43 L169.8,167.47 L170.3,167.51 L170.8,167.55 L171.3,167.59 L171.8,167.63 L172.3,167.66 L172.8,167.70 L173.3,167.74 L173.8,167.77 L174.3,167.81 L174.8,167.84 L175.3,167.88 L175.8,167.91 L176.3,167.95 L176.8,167.98 L177.3,168.02 L177.8,168.05 L178.3,168.08 L178.8,168.11 L179.3,168.15 L179.8,168.18 L180.3,168.21 L180.8,168.24 L181.3,168.27 L181.8,168.30 L182.3,168.33 L182.8,168.36 L183.3,168.39 L183.8,168.42 L184.3,168.45 L184.8,168.48 L185.3,168.51 L185.8,168.54 L186.3,168.57 L186.8,168.59 L187.3,168.62 L187.8,168.65 L188.3,168.68 L188.8,168.70 L189.3,168.73 L189.8,168.75 L190.3,168.78 L190.8,168.81 L191.3,168.83 L191.8,168.86 L192.3,168.88 L192.8,168.91 L193.3,168.93 L193.8,168.95 L194.3,168.98 L194.8,169.00 L195.3,169.02 L195.8,169.05 L196.3,169.07 L196.8,169.09 L197.3,169.12 L197.8,169.14 L198.3,169.16 L198.8,169.18 L199.3,169.20 L199.8,169.22 L200.3,169.25 L200.8,169.27 L201.3,169.29 L201.8,169.31 L202.3,169.33 L202.8,169.35 L203.3,169.37 L203.8,169.39 L204.3,169.41 L204.8,169.43 L205.3,169.45 L205.8,169.46 L206.3,169.48 L206.8,169.50 L207.3,169.52 L207.8,169.54 L208.3,169.56 L208.8,169.57 L209.3,169.59 L209.8,169.61 L210.3,169.63 L210.8,169.64 L211.3,169.66 L211.8,169.68 L212.3,169.69 L212.8,169.71 L213.3,169.73 L213.8,169.74 L214.3,169.76 L214.8,169.78 L215.3,169.79 L215.8,169.81 L216.3,169.82 L216.8,169.84 L217.3,169.85 L217.8,169.87 L218.3,169.88 L218.8,169.90 L219.3,169.91 L219.8,169.93 L220.3,169.94 L220.8,169.96 L221.3,169.97 L221.8,169.99 L222.3,170.00 L222.8,170.01 L223.3,170.03 L223.8,170.04 L224.3,170.05 L224.8,170.07 L225.3,170.08 L225.8,170.09 L226.3,170.11 L226.8,170.12 L227.3,170.13 L227.8,170.14 L228.3,170.16 L228.8,170.17 L229.3,170.18 L229.8,170.19 L230.3,170.21 L230.8,170.22 L231.3,170.23 L231.8,170.24 L232.3,170.25 L232.8,170.27 L233.3,170.28 L233.8,170.29 L234.3,170.30 L234.8,170.31 L235.3,170.32 L235.8,170.33 L236.3,170.34 L236.8,170.36 L237.3,170.37 L237.8,170.38 L238.3,170.39 L238.8,170.40 L239.3,170.41 L239.8,170.42 L240.3,170.43 L240.8,170.44 L241.3,170.45 L241.8,170.46 L242.3,170.47 L242.8,170.48 L243.3,170.49 L243.8,170.50 L244.3,170.51 L244.8,170.52 L245.3,170.53 L245.8,170.54 L246.3,170.55 L246.8,170.56 L247.3,170.57 L247.8,170.58 L248.3,170.59 L248.8,170.59 L249.3,170.60 L249.8,170.61 L250.3,170.62 L250.8,170.63 L251.3,170.64 L251.8,170.65 L252.3,170.66 L252.8,170.67 L253.3,170.67 L253.8,170.68 L254.3,170.69 L254.8,170.70 L255.3,170.71 L255.8,170.72 L256.3,170.72 L256.8,170.73 L257.3,170.74 L257.8,170.75 L258.3,170.76 L258.8,170.76 L259.3,170.77 L259.8,170.78 L260.3,170.79 L260.8,170.80 L261.3,170.80 L261.8,170.81 L262.3,170.82 L262.8,170.83 L263.3,170.83 L263.8,170.84 L264.3,170.85 L264.8,170.86 L265.3,170.86 L265.8,170.87 L266.3,170.88 L266.8,170.89 L267.3,170.89 L267.8,170.90 L268.3,170.91 L268.8,170.91 L269.3,170.92 L269.8,170.93 L270.3,170.94 L270.8,170.94 L271.3,170.95 L271.8,170.96 L272.3,170.96 L272.8,170.97 L273.3,170.98 L273.8,170.98 L274.3,170.99 L274.8,171.00 L275.3,171.00 L275.8,171.01 L276.3,171.02 L276.8,171.02 L277.3,171.03 L277.8,171.04 L278.3,171.04 L278.8,171.05 L279.3,171.06 L279.8,171.06 L280.3,171.07 L280.8,171.08 L281.3,171.08 L281.8,171.09 L282.3,171.09 L282.8,171.10 L283.3,171.11 L283.8,171.11 L284.3,171.12 L284.8,171.12 L285.3,171.13 L285.8,171.14 L286.3,171.14 L286.8,171.15 L287.3,171.16 L287.8,171.16 L288.3,171.17 L288.8,171.17 L289.3,171.18 L289.8,171.18 L290.3,171.19 L290.8,171.20 L291.3,171.20 L291.8,171.21 L292.3,171.21 L292.8,171.22 L293.3,171.23 L293.8,171.23 L294.3,171.24 L294.8,171.24 L295.3,171.25 L295.8,171.25 L296.3,171.26 L296.8,171.27 L297.3,171.27 L297.8,171.28 L298.3,171.28 L298.8,171.29 L299.3,171.29 L299.8,171.30 L300.3,171.30 L300.8,171.31 L301.3,171.32 L301.8,171.32 L302.3,171.33 L302.8,171.33 L303.3,171.34 L303.8,171.34 L304.3,171.35 L304.8,171.35 L305.3,171.36 L305.8,171.36 L306.3,171.37 L306.8,171.38 L306.8,171.38" fill="none" stroke="#3a3a9e" stroke-width="0.63" stroke-linejoin="round"/>
<path transform="scale(1,1.62)" d="M15.8,57.05 L16.3,56.93 L16.8,56.72 L17.3,56.44 L17.8,56.13 L18.3,55.78 L18.8,55.41 L19.3,55.02 L19.8,54.62 L20.3,54.20 L20.8,53.79 L21.3,53.37 L21.8,52.95 L22.3,52.54 L22.8,52.13 L23.3,51.73 L23.8,51.33 L24.3,50.94 L24.8,50.56 L25.3,50.19 L25.8,49.82 L26.3,49.47 L26.8,49.13 L27.3,48.79 L27.8,48.47 L28.3,48.16 L28.8,47.85 L29.3,47.56 L29.8,47.27 L30.3,47.00 L30.8,46.73 L31.3,46.47 L31.8,46.23 L32.3,45.98 L32.8,45.75 L33.3,45.53 L33.8,45.31 L34.3,45.10 L34.8,44.90 L35.3,44.70 L35.8,44.51 L36.3,44.33 L36.8,44.15 L37.3,43.98 L37.8,43.81 L38.3,43.65 L38.8,43.50 L39.3,43.35 L39.8,43.20 L40.3,43.06 L40.8,42.93 L41.3,42.80 L41.8,42.67 L42.3,42.55 L42.8,42.43 L43.3,42.31 L43.8,42.20 L44.3,42.09 L44.8,41.99 L45.3,41.88 L45.8,41.78 L46.3,41.69 L46.8,41.59 L47.3,41.50 L47.8,41.42 L48.3,41.33 L48.8,41.25 L49.3,41.17 L49.8,41.09 L50.3,41.01 L50.8,40.94 L51.3,40.87 L51.8,40.80 L52.3,40.73 L52.8,40.66 L53.3,40.60 L53.8,40.53 L54.3,40.47 L54.8,40.41 L55.3,40.36 L55.8,40.30 L56.3,40.24 L56.8,40.19 L57.3,40.14 L57.8,40.09 L58.3,40.04 L58.8,39.99 L59.3,39.94 L59.8,39.90 L60.3,39.85 L60.8,39.81 L61.3,39.76 L61.8,39.72 L62.3,39.68 L62.8,39.64 L63.3,39.60 L63.8,39.56 L64.3,39.53 L64.8,39.49 L65.3,39.45 L65.8,39.42 L66.3,39.38 L66.8,39.35 L67.3,39.32 L67.8,39.29 L68.3,39.26 L68.8,39.23 L69.3,39.20 L69.8,39.17 L70.3,39.14 L70.8,39.11 L71.3,39.08 L71.8,39.05 L72.3,39.03 L72.8,39.00 L73.3,38.98 L73.8,38.95 L74.3,38.93 L74.8,38.90 L75.3,38.88 L75.8,38.86 L76.3,38.84 L76.8,38.81 L77.3,38.79 L77.8,38.77 L78.3,38.75 L78.8,38.73 L79.3,38.71 L79.8,38.69 L80.3,38.67 L80.8,38.65 L81.3,38.63 L81.8,38.61 L82.3,38.60 L82.8,38.58 L83.3,38.56 L83.8,38.54 L84.3,38.53 L84.8,38.51 L85.3,38.49 L85.8,38.48 L86.3,38.46 L86.8,38.45 L87.3,38.43 L87.8,38.42 L88.3,38.40 L88.8,38.39 L89.3,38.37 L89.8,38.36 L90.3,38.35 L90.8,38.33 L91.3,38.32 L91.8,38.31 L92.3,38.29 L92.8,38.28 L93.3,38.27 L93.8,38.26 L94.3,38.25 L94.8,38.23 L95.3,38.22 L95.8,38.21 L96.3,38.20 L96.8,38.19 L97.3,38.18 L97.8,38.17 L98.3,38.16 L98.8,38.15 L99.3,38.14 L99.8,38.12 L100.3,38.11 L100.8,38.11 L101.3,38.10 L101.8,38.09 L102.3,38.08 L102.8,38.07 L103.3,38.06 L103.8,38.05 L104.3,38.04 L104.8,38.03 L105.3,38.02 L105.8,38.01 L106.3,38.01 L106.8,38.00 L107.3,37.99 L107.8,37.98 L108.3,37.97 L108.8,37.97 L109.3,37.96 L109.8,37.95 L110.3,37.94 L110.8,37.93 L111.3,37.93 L111.8,37.92 L112.3,37.91 L112.8,37.91 L113.3,37.90 L113.8,37.89 L114.3,37.89 L114.8,37.88 L115.3,37.87 L115.8,37.87 L116.3,37.86 L116.8,37.85 L117.3,37.85 L117.8,37.84 L118.3,37.83 L118.8,37.83 L119.3,37.82 L119.8,37.82 L120.3,37.81 L120.8,37.80 L121.3,37.80 L121.8,37.79 L122.3,37.79 L122.8,37.78 L123.3,37.78 L123.8,37.77 L124.3,37.77 L124.8,37.76 L125.3,37.76 L125.8,37.75 L126.3,37.75 L126.8,37.74 L127.3,37.74 L127.8,37.73 L128.3,37.73 L128.8,37.72 L129.3,37.72 L129.8,37.71 L130.3,37.71 L130.8,37.70 L131.3,37.70 L131.8,37.69 L132.3,37.69 L132.8,37.68 L133.3,37.68 L133.8,37.68 L134.3,37.67 L134.8,37.67 L135.3,37.66 L135.8,37.66 L136.3,37.66 L136.8,37.65 L137.3,37.65 L137.8,37.64 L138.3,37.64 L138.8,37.64 L139.3,37.63 L139.8,37.63 L140.3,37.62 L140.8,37.62 L141.3,37.62 L141.8,37.61 L142.3,37.61 L142.8,37.61 L143.3,37.60 L143.8,37.60 L144.3,37.60 L144.8,37.59 L145.3,37.59 L145.8,37.59 L146.3,37.58 L146.8,37.58 L147.3,37.58 L147.8,37.57 L148.3,37.57 L148.8,37.57 L149.3,37.56 L149.8,37.56 L150.3,37.56 L150.8,37.55 L151.3,37.55 L151.8,37.55 L152.3,37.55 L152.8,37.54 L153.3,37.54 L153.8,37.54 L154.3,37.53 L154.8,37.53 L155.3,37.53 L155.8,37.53 L156.3,37.52 L156.8,37.52 L157.3,37.52 L157.8,37.51 L158.3,37.51 L158.8,37.51 L159.3,37.51 L159.8,37.50 L160.3,37.50 L160.8,37.50 L161.3,37.50 L161.8,37.49 L162.3,37.49 L162.8,37.49 L163.3,37.49 L163.8,37.49 L164.3,37.48 L164.8,37.48 L165.3,37.48 L165.8,37.48 L166.3,37.47 L166.8,37.47 L167.3,37.47 L167.8,37.47 L168.3,37.46 L168.8,37.46 L169.3,37.46 L169.8,37.46 L170.3,37.46 L170.8,37.45 L171.3,37.45 L171.8,37.45 L172.3,37.45 L172.8,37.45 L173.3,37.44 L173.8,37.44 L174.3,37.44 L174.8,37.44 L175.3,37.44 L175.8,37.43 L176.3,37.43 L176.8,37.43 L177.3,37.43 L177.8,37.43 L178.3,37.42 L178.8,37.42 L179.3,37.42 L179.8,37.42 L180.3,37.42 L180.8,37.42 L181.3,37.41 L181.8,37.41 L182.3,37.41 L182.8,37.41 L183.3,37.41 L183.8,37.41 L184.3,37.40 L184.8,37.40 L185.3,37.40 L185.8,37.40 L186.3,37.40 L186.8,37.40 L187.3,37.39 L187.8,37.39 L188.3,37.39 L188.8,37.39 L189.3,37.39 L189.8,37.39 L190.3,37.38 L190.8,37.38 L191.3,37.38 L191.8,37.38 L192.3,37.38 L192.8,37.38 L193.3,37.38 L193.8,37.37 L194.3,37.37 L194.8,37.37 L195.3,37.37 L195.8,37.37 L196.3,37.37 L196.8,37.37 L197.3,37.36 L197.8,37.36 L198.3,37.36 L198.8,37.36 L199.3,37.36 L199.8,37.36 L200.3,37.36 L200.8,37.35 L201.3,37.35 L201.8,37.35 L202.3,37.35 L202.8,37.35 L203.3,37.35 L203.8,37.35 L204.3,37.35 L204.8,37.34 L205.3,37.34 L205.8,37.34 L206.3,37.34 L206.8,37.34 L207.3,37.34 L207.8,37.34 L208.3,37.34 L208.8,37.33 L209.3,37.33 L209.8,37.33 L210.3,37.33 L210.8,37.33 L211.3,37.33 L211.8,37.33 L212.3,37.33 L212.8,37.33 L213.3,37.32 L213.8,37.32 L214.3,37.32 L214.8,37.32 L215.3,37.32 L215.8,37.32 L216.3,37.32 L216.8,37.32 L217.3,37.32 L217.8,37.32 L218.3,37.31 L218.8,37.31 L219.3,37.31 L219.8,37.31 L220.3,37.31 L220.8,37.31 L221.3,37.31 L221.8,37.31 L222.3,37.31 L222.8,37.31 L223.3,37.30 L223.8,37.30 L224.3,37.30 L224.8,37.30 L225.3,37.30 L225.8,37.30 L226.3,37.30 L226.8,37.30 L227.3,37.30 L227.8,37.30 L228.3,37.29 L228.8,37.29 L229.3,37.29 L229.8,37.29 L230.3,37.29 L230.8,37.29 L231.3,37.29 L231.8,37.29 L232.3,37.29 L232.8,37.29 L233.3,37.29 L233.8,37.29 L234.3,37.28 L234.8,37.28 L235.3,37.28 L235.8,37.28 L236.3,37.28 L236.8,37.28 L237.3,37.28 L237.8,37.28 L238.3,37.28 L238.8,37.28 L239.3,37.28 L239.8,37.28 L240.3,37.27 L240.8,37.27 L241.3,37.27 L241.8,37.27 L242.3,37.27 L242.8,37.27 L243.3,37.27 L243.8,37.27 L244.3,37.27 L244.8,37.27 L245.3,37.27 L245.8,37.27 L246.3,37.27 L246.8,37.26 L247.3,37.26 L247.8,37.26 L248.3,37.26 L248.8,37.26 L249.3,37.26 L249.8,37.26 L250.3,37.26 L250.8,37.26 L251.3,37.26 L251.8,37.26 L252.3,37.26 L252.8,37.26 L253.3,37.26 L253.8,37.26 L254.3,37.25 L254.8,37.25 L255.3,37.25 L255.8,37.25 L256.3,37.25 L256.8,37.25 L257.3,37.25 L257.8,37.25 L258.3,37.25 L258.8,37.25 L259.3,37.25 L259.8,37.25 L260.3,37.25 L260.8,37.25 L261.3,37.25 L261.8,37.25 L262.3,37.24 L262.8,37.24 L263.3,37.24 L263.8,37.24 L264.3,37.24 L264.8,37.24 L265.3,37.24 L265.8,37.24 L266.3,37.24 L266.8,37.24 L267.3,37.24 L267.8,37.24 L268.3,37.24 L268.8,37.24 L269.3,37.24 L269.8,37.24 L270.3,37.24 L270.8,37.23 L271.3,37.23 L271.8,37.23 L272.3,37.23 L272.8,37.23 L273.3,37.23 L273.8,37.23 L274.3,37.23 L274.8,37.23 L275.3,37.23 L275.8,37.23 L276.3,37.23 L276.8,37.23 L277.3,37.23 L277.8,37.23 L278.3,37.23 L278.8,37.23 L279.3,37.23 L279.8,37.23 L280.3,37.22 L280.8,37.22 L281.3,37.22 L281.8,37.22 L282.3,37.22 L282.8,37.22 L283.3,37.22 L283.8,37.22 L284.3,37.22 L284.8,37.22 L285.3,37.22 L285.8,37.22 L286.3,37.22 L286.8,37.22 L287.3,37.22 L287.8,37.22 L288.3,37.22 L288.8,37.22 L289.3,37.22 L289.8,37.22 L290.3,37.22 L290.8,37.21 L291.3,37.21 L291.8,37.21 L292.3,37.21 L292.8,37.21 L293.3,37.21 L293.8,37.21 L294.3,37.21 L294.8,37.21 L295.3,37.21 L295.8,37.21 L296.3,37.21 L296.8,37.21 L297.3,37.21 L297.8,37.21 L298.3,37.21 L298.8,37.21 L299.3,37.21 L299.8,37.21 L300.3,37.21 L300.8,37.21 L301.3,37.21 L301.8,37.21 L302.3,37.20 L302.8,37.20 L303.3,37.20 L303.8,37.20 L304.3,37.20 L304.8,37.20 L305.3,37.20 L305.8,37.20 L306.3,37.20 L306.8,37.20 L306.8,37.20" fill="none" stroke="#fb0d0d" stroke-width="0.73" stroke-linejoin="round"/>
<path transform="scale(1,1.62)" d="M15.8,57.05 L16.3,57.00 L16.8,56.89 L17.3,56.72 L17.8,56.50 L18.3,56.25 L18.8,55.97 L19.3,55.67 L19.8,55.35 L20.3,55.02 L20.8,54.68 L21.3,54.33 L21.8,53.98 L22.3,53.64 L22.8,53.30 L23.3,52.96 L23.8,52.63 L24.3,52.31 L24.8,52.00 L25.3,51.70 L25.8,51.41 L26.3,51.13 L26.8,50.86 L27.3,50.61 L27.8,50.36 L28.3,50.13 L28.8,49.90 L29.3,49.69 L29.8,49.48 L30.3,49.29 L30.8,49.10 L31.3,48.92 L31.8,48.76 L32.3,48.59 L32.8,48.44 L33.3,48.30 L33.8,48.16 L34.3,48.02 L34.8,47.90 L35.3,47.78 L35.8,47.66 L36.3,47.55 L36.8,47.45 L37.3,47.35 L37.8,47.25 L38.3,47.16 L38.8,47.07 L39.3,46.99 L39.8,46.91 L40.3,46.84 L40.8,46.76 L41.3,46.69 L41.8,46.63 L42.3,46.56 L42.8,46.50 L43.3,46.44 L43.8,46.39 L44.3,46.33 L44.8,46.28 L45.3,46.23 L45.8,46.18 L46.3,46.14 L46.8,46.09 L47.3,46.05 L47.8,46.01 L48.3,45.97 L48.8,45.93 L49.3,45.90 L49.8,45.86 L50.3,45.83 L50.8,45.79 L51.3,45.76 L51.8,45.73 L52.3,45.70 L52.8,45.67 L53.3,45.65 L53.8,45.62 L54.3,45.59 L54.8,45.57 L55.3,45.55 L55.8,45.52 L56.3,45.50 L56.8,45.48 L57.3,45.46 L57.8,45.44 L58.3,45.42 L58.8,45.40 L59.3,45.38 L59.8,45.36 L60.3,45.34 L60.8,45.33 L61.3,45.31 L61.8,45.29 L62.3,45.28 L62.8,45.26 L63.3,45.25 L63.8,45.23 L64.3,45.22 L64.8,45.21 L65.3,45.19 L65.8,45.18 L66.3,45.17 L66.8,45.16 L67.3,45.15 L67.8,45.13 L68.3,45.12 L68.8,45.11 L69.3,45.10 L69.8,45.09 L70.3,45.08 L70.8,45.07 L71.3,45.06 L71.8,45.05 L72.3,45.04 L72.8,45.03 L73.3,45.03 L73.8,45.02 L74.3,45.01 L74.8,45.00 L75.3,44.99 L75.8,44.99 L76.3,44.98 L76.8,44.97 L77.3,44.96 L77.8,44.96 L78.3,44.95 L78.8,44.94 L79.3,44.94 L79.8,44.93 L80.3,44.92 L80.8,44.92 L81.3,44.91 L81.8,44.91 L82.3,44.90 L82.8,44.90 L83.3,44.89 L83.8,44.89 L84.3,44.88 L84.8,44.87 L85.3,44.87 L85.8,44.86 L86.3,44.86 L86.8,44.86 L87.3,44.85 L87.8,44.85 L88.3,44.84 L88.8,44.84 L89.3,44.83 L89.8,44.83 L90.3,44.82 L90.8,44.82 L91.3,44.82 L91.8,44.81 L92.3,44.81 L92.8,44.81 L93.3,44.80 L93.8,44.80 L94.3,44.79 L94.8,44.79 L95.3,44.79 L95.8,44.78 L96.3,44.78 L96.8,44.78 L97.3,44.77 L97.8,44.77 L98.3,44.77 L98.8,44.77 L99.3,44.76 L99.8,44.76 L100.3,44.76 L100.8,44.75 L101.3,44.75 L101.8,44.75 L102.3,44.75 L102.8,44.74 L103.3,44.74 L103.8,44.74 L104.3,44.74 L104.8,44.73 L105.3,44.73 L105.8,44.73 L106.3,44.73 L106.8,44.72 L107.3,44.72 L107.8,44.72 L108.3,44.72 L108.8,44.72 L109.3,44.71 L109.8,44.71 L110.3,44.71 L110.8,44.71 L111.3,44.71 L111.8,44.70 L112.3,44.70 L112.8,44.70 L113.3,44.70 L113.8,44.70 L114.3,44.69 L114.8,44.69 L115.3,44.69 L115.8,44.69 L116.3,44.69 L116.8,44.69 L117.3,44.68 L117.8,44.68 L118.3,44.68 L118.8,44.68 L119.3,44.68 L119.8,44.68 L120.3,44.67 L120.8,44.67 L121.3,44.67 L121.8,44.67 L122.3,44.67 L122.8,44.67 L123.3,44.67 L123.8,44.66 L124.3,44.66 L124.8,44.66 L125.3,44.66 L125.8,44.66 L126.3,44.66 L126.8,44.66 L127.3,44.66 L127.8,44.65 L128.3,44.65 L128.8,44.65 L129.3,44.65 L129.8,44.65 L130.3,44.65 L130.8,44.65 L131.3,44.65 L131.8,44.64 L132.3,44.64 L132.8,44.64 L133.3,44.64 L133.8,44.64 L134.3,44.64 L134.8,44.64 L135.3,44.64 L135.8,44.64 L136.3,44.64 L136.8,44.63 L137.3,44.63 L137.8,44.63 L138.3,44.63 L138.8,44.63 L139.3,44.63 L139.8,44.63 L140.3,44.63 L140.8,44.63 L141.3,44.63 L141.8,44.63 L142.3,44.62 L142.8,44.62 L143.3,44.62 L143.8,44.62 L144.3,44.62 L144.8,44.62 L145.3,44.62 L145.8,44.62 L146.3,44.62 L146.8,44.62 L147.3,44.62 L147.8,44.62 L148.3,44.61 L148.8,44.61 L149.3,44.61 L149.8,44.61 L150.3,44.61 L150.8,44.61 L151.3,44.61 L151.8,44.61 L152.3,44.61 L152.8,44.61 L153.3,44.61 L153.8,44.61 L154.3,44.61 L154.8,44.61 L155.3,44.61 L155.8,44.60 L156.3,44.60 L156.8,44.60 L157.3,44.60 L157.8,44.60 L158.3,44.60 L158.8,44.60 L159.3,44.60 L159.8,44.60 L160.3,44.60 L160.8,44.60 L161.3,44.60 L161.8,44.60 L162.3,44.60 L162.8,44.60 L163.3,44.60 L163.8,44.60 L164.3,44.59 L164.8,44.59 L165.3,44.59 L165.8,44.59 L166.3,44.59 L166.8,44.59 L167.3,44.59 L167.8,44.59 L168.3,44.59 L168.8,44.59 L169.3,44.59 L169.8,44.59 L170.3,44.59 L170.8,44.59 L171.3,44.59 L171.8,44.59 L172.3,44.59 L172.8,44.59 L173.3,44.59 L173.8,44.59 L174.3,44.59 L174.8,44.58 L175.3,44.58 L175.8,44.58 L176.3,44.58 L176.8,44.58 L177.3,44.58 L177.8,44.58 L178.3,44.58 L178.8,44.58 L179.3,44.58 L179.8,44.58 L180.3,44.58 L180.8,44.58 L181.3,44.58 L181.8,44.58 L182.3,44.58 L182.8,44.58 L183.3,44.58 L183.8,44.58 L184.3,44.58 L184.8,44.58 L185.3,44.58 L185.8,44.58 L186.3,44.58 L186.8,44.58 L187.3,44.58 L187.8,44.58 L188.3,44.57 L188.8,44.57 L189.3,44.57 L189.8,44.57 L190.3,44.57 L190.8,44.57 L191.3,44.57 L191.8,44.57 L192.3,44.57 L192.8,44.57 L193.3,44.57 L193.8,44.57 L194.3,44.57 L194.8,44.57 L195.3,44.57 L195.8,44.57 L196.3,44.57 L196.8,44.57 L197.3,44.57 L197.8,44.57 L198.3,44.57 L198.8,44.57 L199.3,44.57 L199.8,44.57 L200.3,44.57 L200.8,44.57 L201.3,44.57 L201.8,44.57 L202.3,44.57 L202.8,44.57 L203.3,44.57 L203.8,44.57 L204.3,44.57 L204.8,44.57 L205.3,44.56 L205.8,44.56 L206.3,44.56 L206.8,44.56 L207.3,44.56 L207.8,44.56 L208.3,44.56 L208.8,44.56 L209.3,44.56 L209.8,44.56 L210.3,44.56 L210.8,44.56 L211.3,44.56 L211.8,44.56 L212.3,44.56 L212.8,44.56 L213.3,44.56 L213.8,44.56 L214.3,44.56 L214.8,44.56 L215.3,44.56 L215.8,44.56 L216.3,44.56 L216.8,44.56 L217.3,44.56 L217.8,44.56 L218.3,44.56 L218.8,44.56 L219.3,44.56 L219.8,44.56 L220.3,44.56 L220.8,44.56 L221.3,44.56 L221.8,44.56 L222.3,44.56 L222.8,44.56 L223.3,44.56 L223.8,44.56 L224.3,44.56 L224.8,44.56 L225.3,44.56 L225.8,44.56 L226.3,44.56 L226.8,44.56 L227.3,44.56 L227.8,44.56 L228.3,44.56 L228.8,44.55 L229.3,44.55 L229.8,44.55 L230.3,44.55 L230.8,44.55 L231.3,44.55 L231.8,44.55 L232.3,44.55 L232.8,44.55 L233.3,44.55 L233.8,44.55 L234.3,44.55 L234.8,44.55 L235.3,44.55 L235.8,44.55 L236.3,44.55 L236.8,44.55 L237.3,44.55 L237.8,44.55 L238.3,44.55 L238.8,44.55 L239.3,44.55 L239.8,44.55 L240.3,44.55 L240.8,44.55 L241.3,44.55 L241.8,44.55 L242.3,44.55 L242.8,44.55 L243.3,44.55 L243.8,44.55 L244.3,44.55 L244.8,44.55 L245.3,44.55 L245.8,44.55 L246.3,44.55 L246.8,44.55 L247.3,44.55 L247.8,44.55 L248.3,44.55 L248.8,44.55 L249.3,44.55 L249.8,44.55 L250.3,44.55 L250.8,44.55 L251.3,44.55 L251.8,44.55 L252.3,44.55 L252.8,44.55 L253.3,44.55 L253.8,44.55 L254.3,44.55 L254.8,44.55 L255.3,44.55 L255.8,44.55 L256.3,44.55 L256.8,44.55 L257.3,44.55 L257.8,44.55 L258.3,44.55 L258.8,44.55 L259.3,44.55 L259.8,44.55 L260.3,44.55 L260.8,44.55 L261.3,44.55 L261.8,44.55 L262.3,44.55 L262.8,44.55 L263.3,44.55 L263.8,44.54 L264.3,44.54 L264.8,44.54 L265.3,44.54 L265.8,44.54 L266.3,44.54 L266.8,44.54 L267.3,44.54 L267.8,44.54 L268.3,44.54 L268.8,44.54 L269.3,44.54 L269.8,44.54 L270.3,44.54 L270.8,44.54 L271.3,44.54 L271.8,44.54 L272.3,44.54 L272.8,44.54 L273.3,44.54 L273.8,44.54 L274.3,44.54 L274.8,44.54 L275.3,44.54 L275.8,44.54 L276.3,44.54 L276.8,44.54 L277.3,44.54 L277.8,44.54 L278.3,44.54 L278.8,44.54 L279.3,44.54 L279.8,44.54 L280.3,44.54 L280.8,44.54 L281.3,44.54 L281.8,44.54 L282.3,44.54 L282.8,44.54 L283.3,44.54 L283.8,44.54 L284.3,44.54 L284.8,44.54 L285.3,44.54 L285.8,44.54 L286.3,44.54 L286.8,44.54 L287.3,44.54 L287.8,44.54 L288.3,44.54 L288.8,44.54 L289.3,44.54 L289.8,44.54 L290.3,44.54 L290.8,44.54 L291.3,44.54 L291.8,44.54 L292.3,44.54 L292.8,44.54 L293.3,44.54 L293.8,44.54 L294.3,44.54 L294.8,44.54 L295.3,44.54 L295.8,44.54 L296.3,44.54 L296.8,44.54 L297.3,44.54 L297.8,44.54 L298.3,44.54 L298.8,44.54 L299.3,44.54 L299.8,44.54 L300.3,44.54 L300.8,44.54 L301.3,44.54 L301.8,44.54 L302.3,44.54 L302.8,44.54 L303.3,44.54 L303.8,44.54 L304.3,44.54 L304.8,44.54 L305.3,44.54 L305.8,44.54 L306.3,44.54 L306.8,44.54 L306.8,44.54" fill="none" stroke="#fb0d0d" stroke-width="0.73" stroke-linejoin="round"/>
<text transform="translate(88.39999999999999,297.0) scale(1.0,1.6)" text-anchor="middle" font-size="10" stroke="#1a1a1a" stroke-width="0.1">10</text>
<text transform="translate(161.09999999999997,297.0) scale(1.0,1.6)" text-anchor="middle" font-size="10" stroke="#1a1a1a" stroke-width="0.1">20</text>
<text transform="translate(233.79999999999998,297.0) scale(1.0,1.6)" text-anchor="middle" font-size="10" stroke="#1a1a1a" stroke-width="0.1">30</text>
<text transform="translate(306.49999999999994,297.0) scale(1.0,1.6)" text-anchor="middle" font-size="10" stroke="#1a1a1a" stroke-width="0.1">40</text>
<text transform="translate(12.2,221.1) scale(1.0,1.6)" text-anchor="end" font-size="10" stroke="#1a1a1a" stroke-width="0.1">0.5</text>
<text transform="translate(12.2,160.1) scale(1.0,1.6)" text-anchor="end" font-size="10" stroke="#1a1a1a" stroke-width="0.1">1.0</text>
<text transform="translate(12.2,98.1) scale(1.0,1.6)" text-anchor="end" font-size="10" stroke="#1a1a1a" stroke-width="0.1">1.5</text>
<text transform="translate(12.2,36.1) scale(1.0,1.6)" text-anchor="end" font-size="10" stroke="#1a1a1a" stroke-width="0.1">2.0</text>
<text transform="translate(6.0,13.8) scale(1.12,1.42)" text-anchor="start" font-size="10" stroke="#1a1a1a" stroke-width="0.1">w</text>
<text transform="translate(13.5,14.1) scale(1.15,1.46)" text-anchor="start" font-size="10">(</text>
<text transform="translate(16.9,13.9) scale(1.22,1.4)" text-anchor="start" font-size="10" font-style="italic" stroke="#1a1a1a" stroke-width="0.05">ρ</text>
<text transform="translate(21.8,14.1) scale(1.15,1.46)" text-anchor="start" font-size="10">)</text>
<text transform="translate(321.7,281.1) scale(1.25,1.4)" text-anchor="start" font-size="10" font-style="italic" stroke="#1a1a1a" stroke-width="0.05">ρ</text>
</svg>
</body></html>
